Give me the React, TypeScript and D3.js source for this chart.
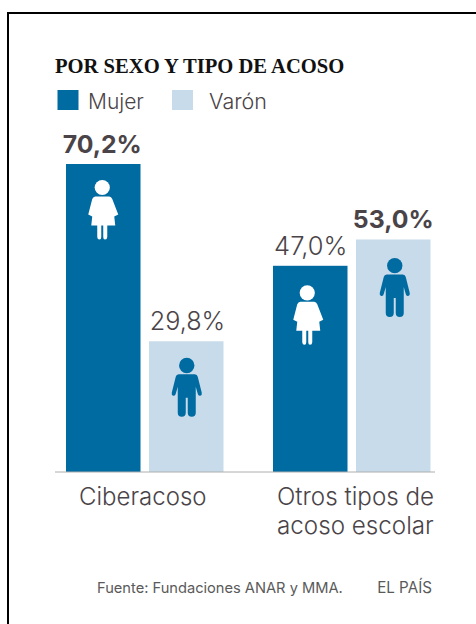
import React from "react";
import * as d3 from "d3";

const categories = ["Ciberacoso", "Otros tipos de|acoso escolar"];
const mujer = [70.2, 47.0];
const varon = [29.8, 53.0];
const valueLabels = [["70,2%", "29,8%"], ["47,0%", "53,0%"]];
const legend = ["Mujer", "Varón"];
const title = "POR SEXO Y TIPO DE ACOSO";
const source = "Fuente: Fundaciones ANAR y MMA.";
const credit = "EL PAÍS";

const BLUE = "#006ba1";
const LIGHT = "#c8dbea";
const TEXT = "#4a4448";
const SANS = "Inter, 'Open Sans', sans-serif";

const y = d3.scaleLinear().domain([0, 70.2]).range([472, 164]);
const x0 = d3.scaleOrdinal<number>().domain(categories).range([66, 273]);

function Female({ cx, top, fill }: { cx: number; top: number; fill: string }) {
  return (
    <g transform={`translate(${cx},${top})`} fill={fill}>
      <circle cx={0} cy={7.5} r={7.6} />
      <path d="M-7,16.5 L7,16.5 Q9,16.5 10,19 L16,34.5 L12,36.5 L13,45.5 L5,45.5 L5,57 Q4.8,59.5 2.8,59.5 Q1,59.5 1,57 L1,45.5 L-1,45.5 L-1,57 Q-1,59.5 -2.8,59.5 Q-4.8,59.5 -5,57 L-5,45.5 L-11,45.5 L-10,36.5 L-14,34.5 L-10,19 Q-9,16.5 -7,16.5 Z" />
    </g>
  );
}

function Male({ cx, top, fill }: { cx: number; top: number; fill: string }) {
  return (
    <g transform={`translate(${cx},${top})`} fill={fill}>
      <circle cx={0} cy={7.7} r={7.7} />
      <path d="M-8,16.5 L8,16.5 Q10.5,16.5 11,19 L15,35 Q15.5,37.5 13.5,38 Q11.5,38.5 11,36 L9,29 L9,55 Q9,59 5,59 Q1,59 1,55 L1,40 L-1,40 L-1,55 Q-1,59 -5,59 Q-9,59 -9,55 L-9,29 L-11,36 Q-11.5,38.5 -13.5,38 Q-15.5,37.5 -15,35 L-11,19 Q-10.5,16.5 -8,16.5 Z" />
    </g>
  );
}

const BW = 74.5;
const OFF = 83;
const femaleOffsets = [[-1, 16], [-3, 19.5]];
const maleOffsets = [[0.5, 16.5], [1.5, 18.5]];

export default function App() {
  return (
    <svg width={476} height={624} style={{ position: "absolute", left: 0, top: 0, background: "#fff" }}>
      <path d="M8,624 L8,13 L476,13" fill="none" stroke="#000" strokeWidth={2} />
      <text x={55} y={72.5} fontFamily="'Liberation Serif', serif" fontWeight={700} fontSize={20.6} fill="#111">{title}</text>

      <rect x={57.5} y={90} width={21} height={20} fill={BLUE} />
      <text x={88} y={109} fontFamily={SANS} fontSize={21} fontWeight={350} fill={TEXT}>{legend[0]}</text>
      <rect x={172} y={90} width={21} height={20} fill={LIGHT} />
      <text x={209} y={109} fontFamily={SANS} fontSize={21.5} fontWeight={350} fill={TEXT}>{legend[1]}</text>

      {categories.map((c, i) => {
        const xm = x0(c);
        const xv = xm + OFF;
        const mBold = mujer[i] > varon[i];
        return (
          <g key={c}>
            <rect x={xm} y={y(mujer[i])} width={BW} height={y(0) - y(mujer[i])} fill={BLUE} />
            <rect x={xv} y={y(varon[i])} width={BW} height={y(0) - y(varon[i])} fill={LIGHT} />
            <text x={xm + BW / 2 + (mBold ? -1 : 0.5)} y={y(mujer[i]) - 11} textAnchor="middle" fontFamily={SANS} fontSize={mBold ? 24.8 : 25.5} fontWeight={mBold ? 700 : 300} fill={TEXT}>{valueLabels[i][0]}</text>
            <text x={xv + BW / 2 + (mBold ? 1.2 : 0)} y={y(varon[i]) - 11} textAnchor="middle" fontFamily={SANS} fontSize={mBold ? 25.2 : 24.8} fontWeight={mBold ? 300 : 700} fill={TEXT}>{valueLabels[i][1]}</text>
            <Female cx={xm + BW / 2 + femaleOffsets[i][0]} top={y(mujer[i]) + femaleOffsets[i][1]} fill="#fff" />
            <Male cx={xv + BW / 2 + maleOffsets[i][0]} top={y(varon[i]) + maleOffsets[i][1]} fill={BLUE} />
          </g>
        );
      })}
      <line x1={55} x2={435} y1={y(0)} y2={y(0)} stroke="#aeaeae" strokeWidth={1} />

      <text x={79} y={505} fontFamily={SANS} fontSize={24} fontWeight={300} fill={TEXT}>{categories[0]}</text>
      {categories[1].split("|").map((t, i) => (
        <text key={t} x={277} y={505 + 29 * i} fontFamily={SANS} fontSize={24.2} fontWeight={300} fill={TEXT}>{t}</text>
      ))}

      <text x={97} y={593} fontFamily={SANS} fontSize={14.65} fill="#5a5a5a">{source}</text>
      <text x={432} y={593} textAnchor="end" fontFamily={SANS} fontSize={15.2} fill="#5a5a5a">{credit}</text>
    </svg>
  );
}
